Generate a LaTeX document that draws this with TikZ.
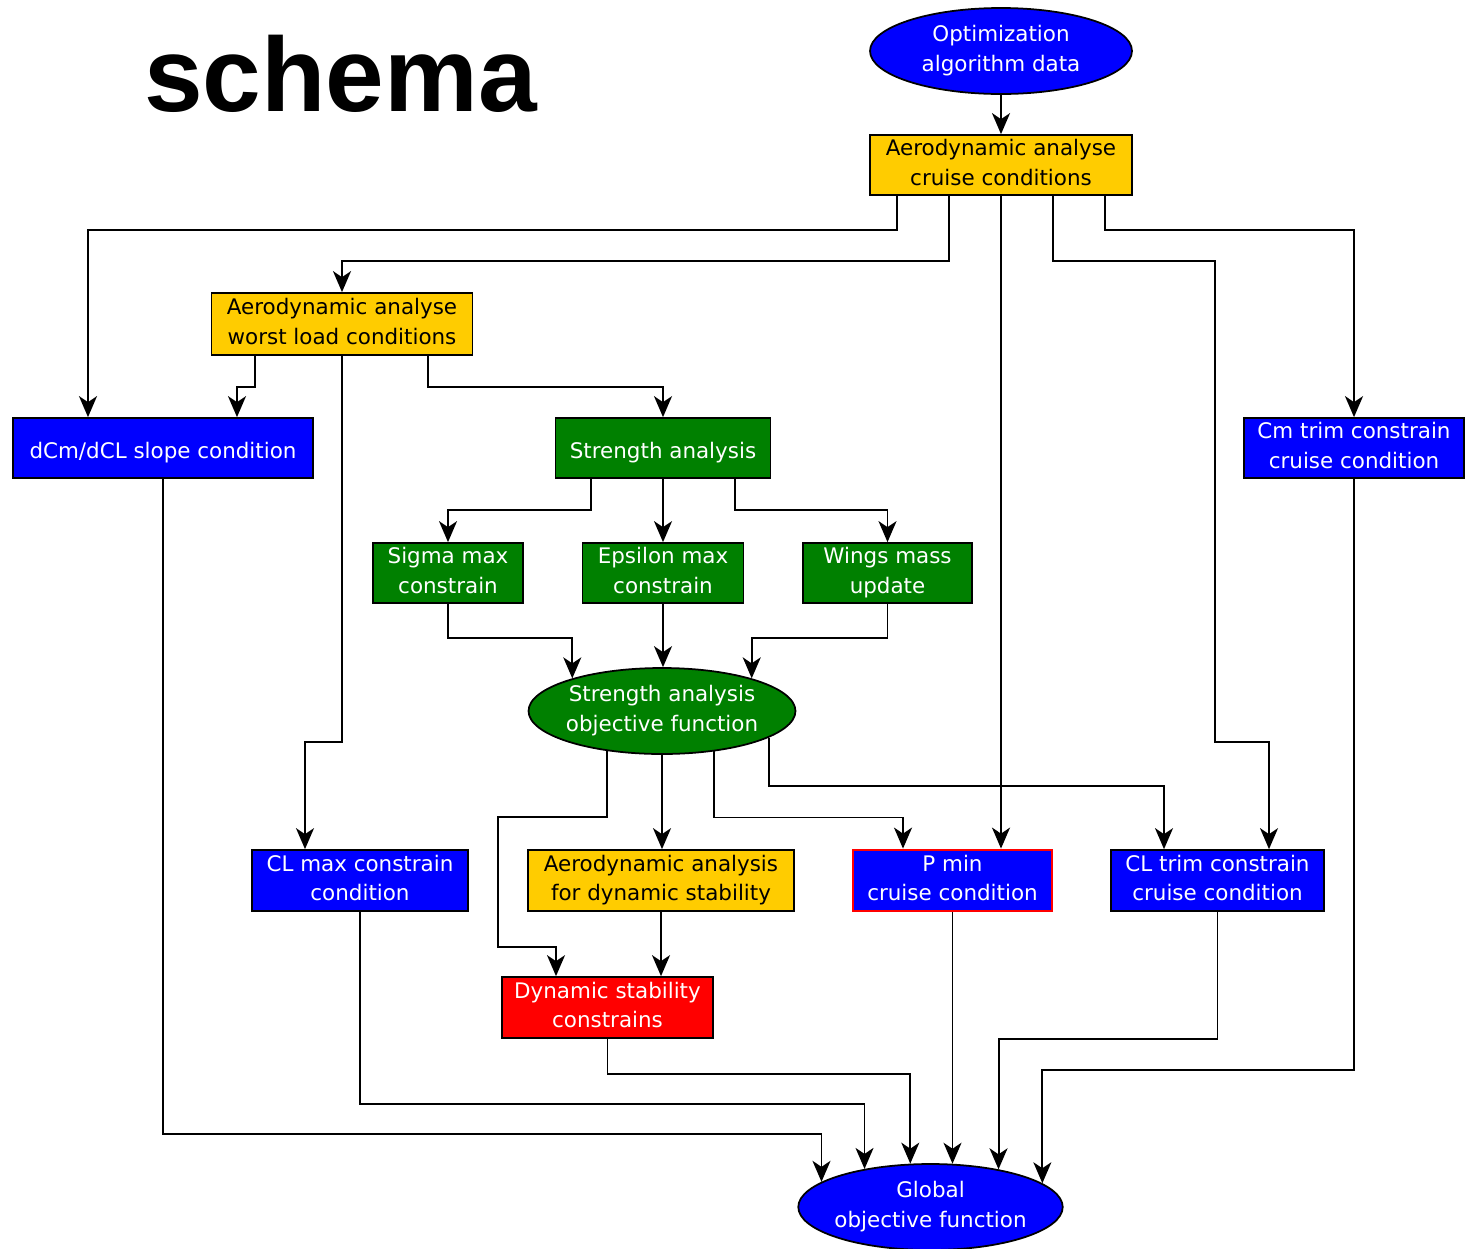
\documentclass[tikz,border=0pt]{standalone}
\usepackage{fontspec}
\setmainfont{DejaVu Sans}
\newfontfamily\titlefont{Liberation Sans}
\usepackage{xcolor}
\usepackage{tikz}
\usetikzlibrary{shapes.geometric, arrows.meta, calc}
\definecolor{boxblue}{RGB}{0,0,255}
\definecolor{boxyellow}{RGB}{255,204,0}
\definecolor{boxgreen}{RGB}{0,128,0}
\definecolor{boxred}{RGB}{255,0,0}
\newcommand{\boxstrut}{\rule[-3pt]{0pt}{18pt}}
\tikzstyle{block} = [rectangle, minimum height=1.2cm, inner sep=0pt, align=center, draw=black, line width=1pt, font=\fontsize{12.2}{17}\selectfont, execute at begin node=\boxstrut, execute at end node=\boxstrut]
\tikzstyle{yellowblock} = [block, fill=boxyellow, text=black]
\tikzstyle{blueblock} = [block, fill=boxblue, text=white]
\tikzstyle{greenblock} = [block, fill=boxgreen, text=white]
\tikzstyle{redblock} = [block, fill=boxred, text=white]
\tikzstyle{oval} = [ellipse, minimum height=1.72cm, inner xsep=-1.5pt, inner ysep=0pt, align=center, draw=black, line width=1pt, text=white, font=\fontsize{12.2}{17}\selectfont, execute at begin node=\boxstrut, execute at end node=\boxstrut]
\tikzstyle{blueoval} = [oval, fill=boxblue]
\tikzstyle{greenoval} = [oval, fill=boxgreen]
\tikzstyle{arrow} = [line width=1.1pt, -{Stealth[length=0.42cm, width=0.36cm, inset=0.12cm]}]

\begin{document}
\begin{tikzpicture}[x=0.02cm, y=-0.02cm]
\useasboundingbox (0,0) rectangle (1466,1248);

% Titolo
\node (title) [anchor=base west, inner sep=0pt, font=\titlefont\bfseries\fontsize{60}{60}\selectfont] at (144,111) {schema};

% Nodi
\node (optdata) [blueoval, minimum width=5.24cm] at (1001,51) {Optimization\\algorithm data};
\node (cruise) [yellowblock, minimum width=5.24cm] at (1001,165) {Aerodynamic analyse\\cruise conditions};
\node (worstload) [yellowblock, minimum width=5.22cm, minimum height=1.24cm] at (342,324) {Aerodynamic analyse\\worst load conditions};

\node (slope) [blueblock, minimum width=6cm] at (163,448) {dCm/dCL slope condition};
\node (strength) [greenblock, minimum width=4.3cm] at (663,448) {Strength analysis};
\node (cmtrim) [blueblock, minimum width=4.4cm] at (1354,448) {Cm trim constrain\\cruise condition};

\node (sigma) [greenblock, minimum width=3cm] at (448,573) {Sigma max\\constrain};
\node (epsilon) [greenblock, minimum width=3.22cm] at (663,573) {Epsilon max\\constrain};
\node (wingsmass) [greenblock, minimum width=3.38cm] at (887.5,573) {Wings mass\\update};

\node (strengthobj) [greenoval, minimum width=5.34cm] at (662,711) {Strength analysis\\objective function};

\node (clmax) [blueblock, minimum width=4.32cm, minimum height=1.22cm] at (360,880.5) {CL max constrain\\condition};
\node (aerodyn) [yellowblock, minimum width=5.32cm, minimum height=1.22cm] at (661,880.5) {Aerodynamic analysis\\for dynamic stability};
\node (pmin) [blueblock, draw=boxred, line width=1.6pt, minimum width=3.98cm, minimum height=1.22cm] at (952.5,880.5) {P min\\cruise condition};
\node (cltrim) [blueblock, minimum width=4.26cm, minimum height=1.22cm] at (1217.5,880.5) {CL trim constrain\\cruise condition};

\node (dynstab) [redblock, minimum width=4.22cm, minimum height=1.22cm] at (607.5,1007.5) {Dynamic stability\\constrains};

\node (globalobj) [blueoval, minimum width=5.26cm] at (930.5,1207) {Global\\objective function};

% Frecce
\draw [arrow] (optdata) -- (cruise);

\draw [arrow] ($(cruise.south)+(-104,0)$) -- ++(0,34) -| ($(slope.north)+(-75,0)$);
\draw [arrow] ($(cruise.south)+(-52,0)$) -- ++(0,65) -| (worstload.north);
\draw [arrow] (cruise.south) -- (cruise.south |- pmin.north);
\draw [arrow] ($(cruise.south)+(52,0)$) -- ++(0,65) -| ++(162,481) -| ($(cltrim.north)+(51.5,0)$);
\draw [arrow] ($(cruise.south)+(104,0)$) -- ++(0,34) -| (cmtrim.north);

\draw [arrow] ($(worstload.south)+(-87,0)$) -- ++(0,31) -| ($(slope.north)+(74,0)$);
\draw [arrow] (worstload.south) -- ++(0,386) -| ($(clmax.north)+(-55,0)$);
\draw [arrow] ($(worstload.south)+(86,0)$) -- ++(0,31) -| (strength.north);

\draw [arrow] ($(strength.south)+(-72,0)$) -- ++(0,31) -| (sigma.north);
\draw [arrow] (strength) -- (epsilon);
\draw [arrow] ($(strength.south)+(72,0)$) -- ++(0,31) -| (wingsmass.north);

\draw [arrow] (sigma.south) -- ++(0,34) -| (strengthobj.160);
\draw [arrow] (epsilon.south) -- (epsilon.south |- strengthobj.north);
\draw [arrow] (wingsmass.south) -- ++(0,34) -| (strengthobj.20);

\draw [arrow] (strengthobj.216.4) -- ++(0,66) -| ++(-109,130) -| ($(dynstab.north)+(-51.5,0)$);
\draw [arrow] (strengthobj.south) -- (strengthobj.south |- aerodyn.north);
\draw [arrow] (strengthobj.322.4) -- ++(0,66) -| ($(pmin.north)+(-49.5,0)$);
\draw [arrow] (strengthobj.346) -- ++(0,48) -| ($(cltrim.north)+(-53.5,0)$);

\draw [arrow] (aerodyn.south) -- (aerodyn.south |- dynstab.north);

\draw [arrow] (slope.south) -- ++(0,655) -| (globalobj.167);
\draw [arrow] (clmax.south) -- ++(0,192) -| (globalobj.150.3);
\draw [arrow] (dynstab.south) -- ++(0,35) -| (globalobj.115.75);
\draw [arrow] (pmin.south) -- (pmin.south |- globalobj.63.1);
\draw [arrow] (cltrim.south) -- ++(0,127) -| (globalobj.29.7);
\draw [arrow] (cmtrim.south) -- ++(0,591) -| (globalobj.12.3);

\end{tikzpicture}
\end{document}
